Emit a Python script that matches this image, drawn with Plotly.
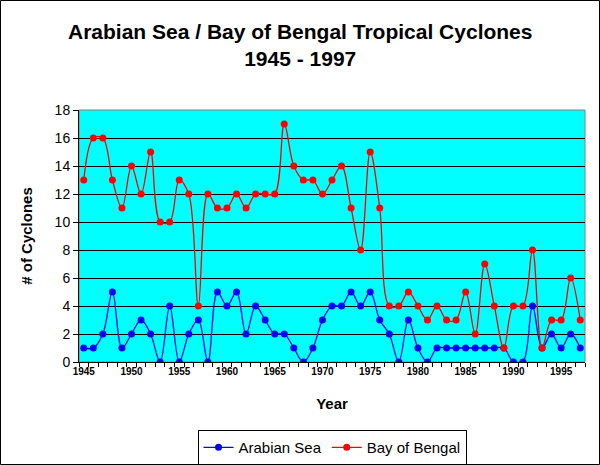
import plotly.graph_objects as go

years = list(range(1945, 1998))
arabian_sea = [1, 1, 2, 5, 1, 2, 3, 2, 0, 4, 0, 2, 3, 0, 5, 4, 5, 2, 4, 3,
               2, 2, 1, 0, 1, 3, 4, 4, 5, 4, 5, 3, 2, 0, 3, 1, 0, 1, 1, 1,
               1, 1, 1, 1, 1, 0, 0, 4, 1, 2, 1, 2, 1]
bay_of_bengal = [13, 16, 16, 13, 11, 14, 12, 15, 10, 10, 13, 12, 4, 12, 11, 11, 12, 11, 12, 12,
                 12, 17, 14, 13, 13, 12, 13, 14, 11, 8, 15, 11, 4, 4, 5, 4, 3, 4, 3, 3,
                 5, 2, 7, 4, 1, 4, 4, 8, 1, 3, 3, 6, 3]
x_ticks = list(range(1945, 1996, 5))
y_ticks = list(range(0, 19, 2))

FONT = "Arial, 'Liberation Sans', sans-serif"

fig = go.Figure()
fig.add_trace(go.Scatter(
    x=years, y=arabian_sea, name="Arabian Sea", mode="lines+markers",
    line=dict(color="#0000FF", width=1.3, shape="spline", smoothing=1.0),
    marker=dict(color="#0000FF", size=7, symbol="circle"),
))
fig.add_trace(go.Scatter(
    x=years, y=bay_of_bengal, name="Bay of Bengal", mode="lines+markers",
    line=dict(color="#FF0000", width=1.3, shape="spline", smoothing=1.0),
    marker=dict(color="#FF0000", size=7, symbol="circle"),
))

L, R, T, B = 79, 15, 110, 103
W, H = 600, 465
pw, ph = W - L - R, H - T - B

fig.update_layout(
    width=W, height=H,
    margin=dict(l=L, r=R, t=T, b=B, autoexpand=False),
    paper_bgcolor="white",
    plot_bgcolor="#00FFFF",
    font=dict(family=FONT, color="black"),
    xaxis=dict(
        range=[1944.5, 1997.5], automargin=False,
        tickvals=x_ticks, ticktext=[f"<b>{v}</b>" for v in x_ticks],
        tickfont=dict(size=10),
        ticks="", showgrid=False, zeroline=False,
        showline=True, linecolor="black", linewidth=1,
        minor=dict(tick0=1944.5, dtick=1, ticks="outside", ticklen=4,
                   tickcolor="black", showgrid=False),
        title=dict(text="<b>Year</b>", font=dict(size=15), standoff=22),
    ),
    yaxis=dict(
        range=[0, 18], automargin=False,
        tickvals=y_ticks,
        tickfont=dict(size=14),
        ticks="outside", ticklen=5, tickcolor="black",
        showgrid=True, gridcolor="black", gridwidth=1,
        zeroline=False,
        showline=True, linecolor="black", linewidth=1,
        title=dict(text="<b># of Cyclones</b>", font=dict(size=15), standoff=18),
    ),
    legend=dict(
        orientation="h", x=0.5, xanchor="center", y=-0.27, yanchor="top",
        bgcolor="white", bordercolor="black", borderwidth=1,
        font=dict(size=15), itemwidth=30,
    ),
    showlegend=True,
)

# chart title, centred on the whole chart
fig.add_annotation(
    text="<b>Arabian Sea / Bay of Bengal Tropical Cyclones<br>1945 - 1997</b>",
    xref="paper", yref="paper",
    x=(W / 2 - L) / pw, y=1 + (T - 18) / ph,
    xanchor="center", yanchor="top", showarrow=False,
    font=dict(size=21, family=FONT, color="black"),
)

# plot-area border (gray on top/right)
fig.add_shape(type="rect", xref="paper", yref="paper", x0=0, x1=1, y0=0, y1=1,
              line=dict(color="#808080", width=1), layer="below")
# outer chart border
fig.add_shape(type="rect", xref="paper", yref="paper",
              x0=-(L - 0.5) / pw, x1=1 + (R - 0.5) / pw,
              y0=-(B - 0.5) / ph, y1=1 + (T - 0.5) / ph,
              line=dict(color="black", width=1))

fig.write_html("out.html",
               config={"displayModeBar": False},
               post_script="document.body.style.margin='0';document.body.style.padding='0';")
